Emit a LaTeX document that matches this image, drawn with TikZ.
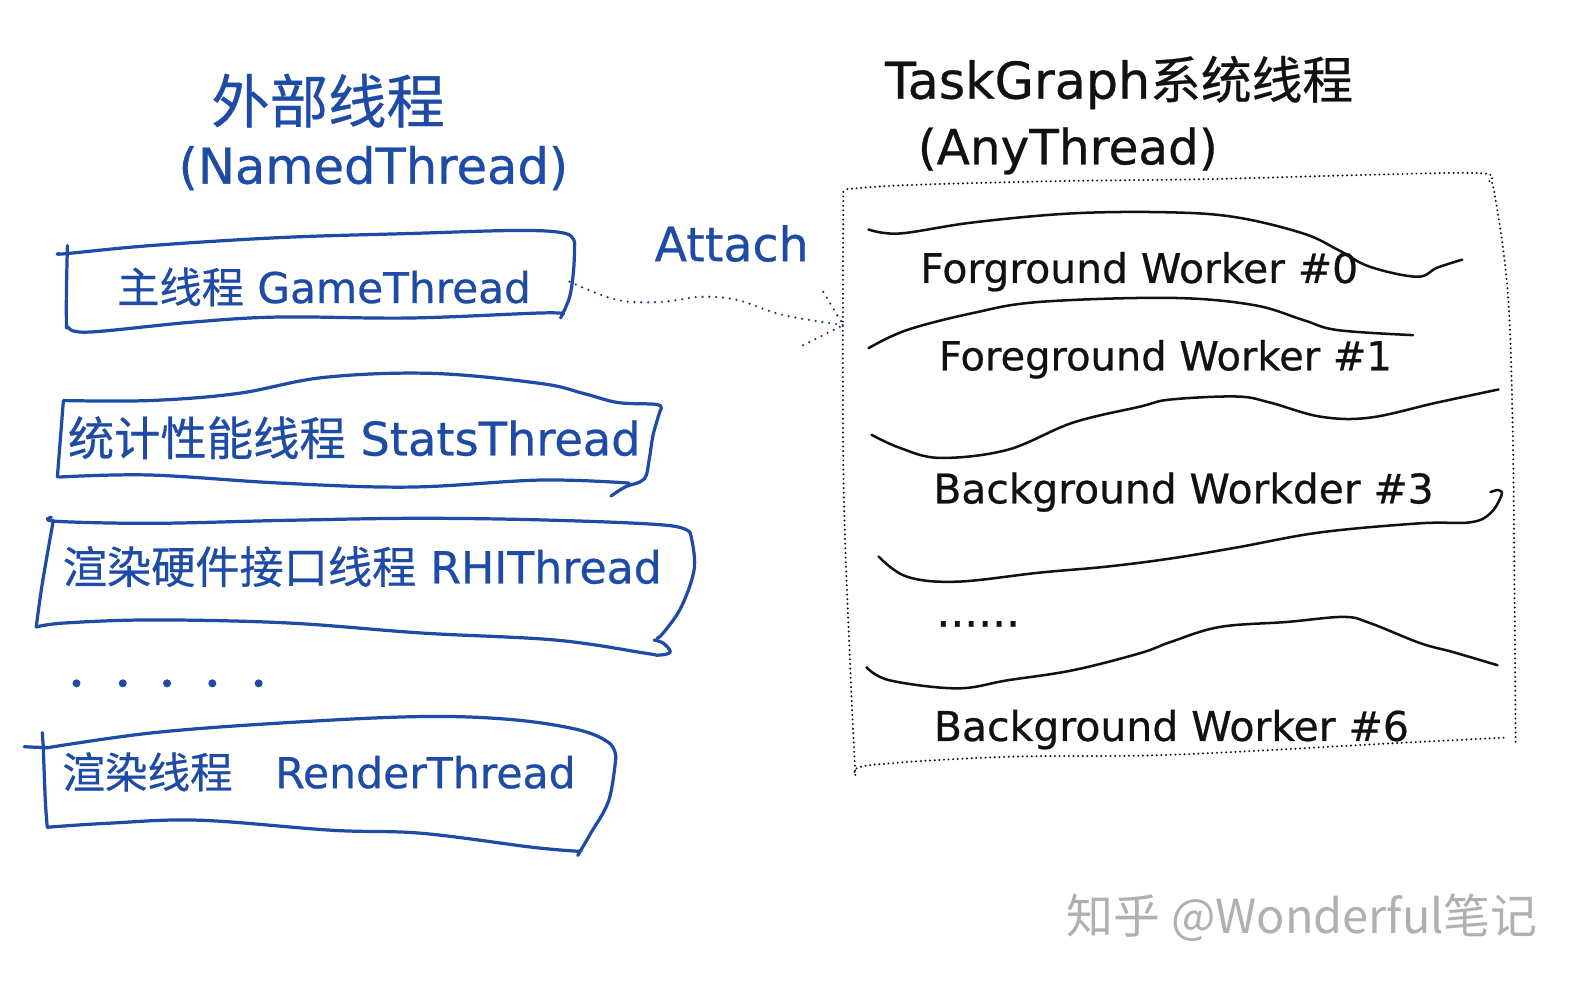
\documentclass[tikz,border=0pt]{standalone}
\usepackage{fontspec}
\setmainfont{DejaVu Sans}[FakeBold=0.6]
\newfontfamily\cjk{Noto Sans CJK SC}[FakeBold=0.5]
\newfontfamily\wmfont{Noto Sans CJK SC}
\definecolor{penblue}{HTML}{1E4BA6}
\definecolor{wmgray}{HTML}{B0B0B0}
\definecolor{ink}{HTML}{111111}
\begin{document}
\begin{tikzpicture}[x=0.5pt,y=-0.5pt,
  blueline/.style={draw=penblue,line width=1.6pt,line cap=round,line join=round},
  blackline/.style={draw=ink,line width=1.25pt,line cap=round,line join=round},
  boxdots/.style={draw=ink,line width=1.1pt,dash pattern=on 0pt off 2.3pt,line cap=round},
  attachdots/.style={draw=penblue!70!black,line width=1.2pt,dash pattern=on 0pt off 3.4pt,line cap=round},
  lbl/.style={inner sep=0pt,anchor=center},
  bluelbl/.style={lbl,text=penblue},
  blacklbl/.style={lbl,text=ink},
  bluedot/.style={circle,fill=penblue,inner sep=0pt,minimum size=4pt}]
\useasboundingbox (0,0) rectangle (1568,979);
\fill[white] (0,0) rectangle (1568,979);

% ---------- titles ----------
\node[bluelbl] (ltitle1) at (326,100) {\resizebox{116pt}{!}{\cjk 外部线程}};
\node[bluelbl] (ltitle2) at (371,167) {\resizebox{193.5pt}{!}{(NamedThread)}};
\node[blacklbl] (rtitle1) at (1112,82) {\resizebox{232.5pt}{!}{TaskGraph{\cjk 系统线程}}};
\node[blacklbl] (rtitle2) at (1061,150) {\resizebox{149pt}{!}{(AnyThread)}};

% ---------- box 1 ----------
\draw[blueline] plot[smooth,tension=0.6] coordinates {(59,252) (66,252) (150,244) (280,236) (408,232) (516,229) (562,232) (571,242)};
\draw[blueline] plot[smooth,tension=0.6] coordinates {(571,242) (570,268) (566,295) (557,316)};
\draw[blueline] plot[smooth,tension=0.6] coordinates {(560,312) (537,311) (407,316) (278,315) (192,320) (88,330) (68,325)};
\draw[blueline] plot[smooth,tension=0.6] coordinates {(66,326) (66,290) (67,244)};
\node[bluelbl] (t1) at (322,285) {\resizebox{205.5pt}{!}{{\cjk 主线程} GameThread}};

% ---------- box 2 ----------
\draw[blueline] plot[smooth,tension=0.6] coordinates {(63,398) (149,398) (236,391) (322,375) (429,371) (537,381) (580,391) (614,400) (653,402) (656,408)};
\draw[blueline] plot[smooth,tension=0.6] coordinates {(656,408) (649,432) (645,457) (640,476) (621,484) (607,493)};
\draw[blueline] plot[smooth,tension=0.6] coordinates {(625,480) (537,477) (407,484) (278,480) (149,472) (59,474)};
\draw[blueline] plot[smooth,tension=0.6] coordinates {(57,474) (60,436) (63,398)};
\node[bluelbl] (t2) at (352,435) {\resizebox{284.5pt}{!}{{\cjk 统计性能线程} StatsThread}};

% ---------- box 3 ----------
\draw[blueline] plot[smooth,tension=0.6] coordinates {(51,514) (56,518) (153,520) (286,517) (419,515) (552,517) (663,522) (686,530)};
\draw[blueline] plot[smooth,tension=0.6] coordinates {(686,530) (690,564) (677,603) (659,629) (653,634)};
\draw[blueline] plot[smooth,tension=0.6] coordinates {(650,636) (659,639) (666,648) (654,651) (641,649) (552,636) (419,629) (286,619) (153,616) (65,619) (36,623)};
\draw[blueline] plot[smooth,tension=0.6] coordinates {(36,623) (42,580) (53,517)};
\node[bluelbl] (t3) at (360,563) {\resizebox{297.5pt}{!}{{\cjk 渲染硬件接口线程} RHIThread}};

% ---------- left dots ----------
\node[bluedot] (ld1) at (76,679) {};
\node[bluedot] (ld2) at (122,679) {};
\node[bluedot] (ld3) at (166,679) {};
\node[bluedot] (ld4) at (211,679) {};
\node[bluedot] (ld5) at (257,679) {};

% ---------- box 4 ----------
\draw[blueline] (24,742) -- (47,743);
\draw[blueline] (42,728) -- (43,742);
\draw[blueline] plot[smooth,tension=0.6] coordinates {(47,743) (153,728) (286,718) (419,712) (508,715) (574,725) (605,738) (612,752)};
\draw[blueline] plot[smooth,tension=0.6] coordinates {(612,752) (605,795) (587,828) (574,850)};
\draw[blueline] plot[smooth,tension=0.6] coordinates {(577,846) (530,842) (419,828) (330,825) (198,815) (108,818) (47,822)};
\draw[blueline] plot[smooth,tension=0.6] coordinates {(47,822) (45,795) (43,742)};
\node[bluelbl] (t4) at (317,767) {\resizebox{255pt}{!}{{\cjk 渲染线程}\quad RenderThread}};

% ---------- right dotted box ----------
\draw[boxdots] plot[smooth,tension=0.6] coordinates {(842,188) (900,184) (1050,180) (1200,178) (1350,174) (1470,172) (1480,180)};
\draw[boxdots] plot[smooth,tension=0.6] coordinates {(1480,180) (1485,192) (1498,288) (1503,420) (1505,600) (1506,740)};
\draw[boxdots] plot[smooth,tension=0.6] coordinates {(1494,733) (1394,738) (1163,750) (1001,752) (867,760) (850,768)};
\draw[boxdots] plot[smooth,tension=0.6] coordinates {(850,770) (845,666) (838,467) (838,188)};
\coordinate (boxin) at (838,323);

% ---------- separator lines ----------
\draw[blackline] plot[smooth,tension=0.6] coordinates {(863,228) (894,232) (967,221) (1066,212) (1163,211) (1229,216) (1295,232) (1329,248) (1361,265) (1408,275) (1428,266) (1453,258)};
\draw[blackline] plot[smooth,tension=0.6] coordinates {(863,346) (901,328) (967,311) (1033,300) (1163,296) (1245,303) (1295,318) (1329,328) (1404,333)};
\draw[blackline] plot[smooth,tension=0.6] coordinates {(866,432) (894,445) (934,455) (1001,447) (1066,420) (1133,404) (1163,397) (1229,394) (1262,400) (1312,414) (1361,415) (1428,400) (1489,387)};
\draw[blackline] plot[smooth,tension=0.6] coordinates {(873,553) (901,573) (951,578) (1033,569) (1100,563) (1163,555) (1229,544) (1312,529) (1411,520) (1461,519) (1481,510) (1492,492) (1489,487) (1481,489)};
\draw[blackline] plot[smooth,tension=0.6] coordinates {(861,663) (884,676) (951,684) (1001,676) (1066,666) (1133,649) (1163,638) (1212,623) (1279,618) (1335,613) (1361,619) (1411,639) (1444,648) (1488,661)};

% ---------- worker labels ----------
\node[blacklbl] (w0) at (1132,270) {\resizebox{217.5pt}{!}{Forground Worker \#0}};
\node[blacklbl] (w1) at (1158,357) {\resizebox{225pt}{!}{Foreground Worker \#1}};
\node[blacklbl] (w3) at (1176,489) {\resizebox{248.5pt}{!}{Background Workder \#3}};
\node[blacklbl] (wdots) at (972,620) {\resizebox{41.5pt}{!}{......}};
\node[blacklbl] (w6) at (1164,725) {\resizebox{236pt}{!}{Background Worker \#6}};

% ---------- attach connector ----------
\node[bluelbl] (attach) at (727,242) {\resizebox{76.5pt}{!}{Attach}};
\coordinate (attachstart) at (566,280);
\draw[attachdots] plot[smooth,tension=0.6] coordinates {(attachstart) (613,298) (657,300) (696,295) (732,298) (778,313) (boxin)};
\draw[attachdots] (818,290) -- (boxin);
\draw[attachdots] (798,343) -- (boxin);

% ---------- watermark ----------
\node[lbl,text=wmgray] (wm) at (1294,912) {\resizebox{234pt}{!}{\wmfont 知乎 @Wonderful笔记}};
\end{tikzpicture}
\end{document}
